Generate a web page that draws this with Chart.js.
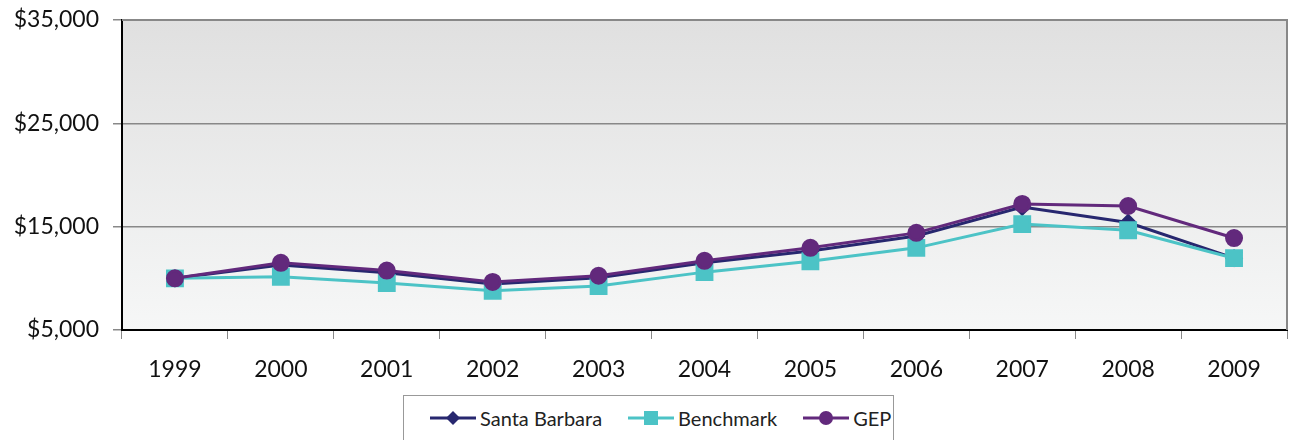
<!DOCTYPE html>
<html>
<head>
<meta charset="utf-8">
<script src="https://cdn.jsdelivr.net/npm/chart.js@4/dist/chart.umd.min.js"></script>
<style>
    body { margin: 0; background: #fff; overflow: hidden; }
    #wrap { position: relative; width: 1289px; height: 440px; overflow: hidden; }
    #legend {
        position: absolute; left: 403px; top: 395px; width: 491px; height: 50px;
        border: 1px solid #999; background: #fff; box-sizing: border-box;
        display: flex; align-items: flex-start; padding-top: 10px; padding-left: 26px;
        font-family: Lato, "Open Sans", sans-serif; font-size: 20px; color: #222;
        white-space: nowrap;
    }
    #legend .item { display: flex; align-items: center; margin-right: 26px; flex-shrink: 0; }
    #legend svg { margin-right: 4px; flex-shrink: 0; }
</style>
</head>
<body>
<div id="wrap">
    <canvas id="chart" width="1289" height="440"></canvas>
    <div id="legend"></div>
</div>
<script>
/* ========== DADOS ========== */
const years = ['1999', '2000', '2001', '2002', '2003', '2004', '2005', '2006', '2007', '2008', '2009'];
const santaBarbara = [10000, 11300, 10550, 9450, 10050, 11500, 12650, 14100, 16900, 15400, 11950];
const benchmark = [10000, 10150, 9550, 8800, 9250, 10600, 11650, 12950, 15250, 14650, 11950];
const gep = [10000, 11500, 10750, 9650, 10250, 11700, 12950, 14400, 17200, 17000, 13900];
const yTicks = [5000, 15000, 25000, 35000];

const COLORS = { sb: '#27276f', bench: '#4cc3c6', gep: '#62297c' };
const FONT = 'Lato, "Open Sans", sans-serif';

/* ========== FUNDO / BORDAS ========== */
const plotFrame = {
    id: 'plotFrame',
    beforeDraw(chart) {
        const { ctx, chartArea: a } = chart;
        const g = ctx.createLinearGradient(0, a.top, 0, a.bottom);
        g.addColorStop(0, '#e0e0e0');
        g.addColorStop(1, '#f6f7f7');
        ctx.save();
        ctx.fillStyle = g;
        ctx.fillRect(a.left, a.top, a.right - a.left, a.bottom - a.top);
        ctx.restore();
    },
    afterDraw(chart) {
        const { ctx, chartArea: a } = chart;
        ctx.save();
        ctx.strokeStyle = '#888';
        ctx.lineWidth = 2;
        ctx.beginPath();
        ctx.moveTo(a.left, a.top);
        ctx.lineTo(a.right, a.top);
        ctx.lineTo(a.right, a.bottom);
        ctx.stroke();
        ctx.restore();
    }
};

/* ========== GRÁFICO ========== */
const ctx = document.getElementById('chart').getContext('2d');
new Chart(ctx, {
    type: 'line',
    data: {
        labels: years,
        datasets: [
            {
                label: 'Santa Barbara', data: santaBarbara, order: 3,
                borderColor: COLORS.sb, backgroundColor: COLORS.sb,
                borderWidth: 3, pointStyle: 'rectRot', pointRadius: 7
            },
            {
                label: 'Benchmark', data: benchmark, order: 2,
                borderColor: COLORS.bench, backgroundColor: COLORS.bench,
                borderWidth: 3, pointStyle: 'rect', pointRadius: 10.5
            },
            {
                label: 'GEP', data: gep, order: 1,
                borderColor: COLORS.gep, backgroundColor: COLORS.gep,
                borderWidth: 3, pointStyle: 'circle', pointRadius: 7.5
            }
        ]
    },
    options: {
        responsive: false,
        animation: false,
        layout: { autoPadding: false, padding: { top: 20, right: 2, bottom: 0, left: 0 } },
        plugins: { legend: { display: false }, tooltip: { enabled: false } },
        elements: { line: { tension: 0 }, point: { borderWidth: 0, hoverRadius: 8 } },
        scales: {
            x: {
                offset: true,
                afterFit(s) { s.height = 110; s.paddingLeft = 0; s.paddingRight = 0; },
                grid: { offset: true, drawOnChartArea: false, drawTicks: true, tickLength: 9, color: '#888', lineWidth: 1 },
                border: { color: '#000', width: 2 },
                ticks: { color: '#111', padding: 17, font: { family: FONT, size: 23 } }
            },
            y: {
                min: 5000, max: 35000,
                afterFit(s) { s.width = 122; s.paddingTop = 0; s.paddingBottom = 0; },
                afterBuildTicks(s) { s.ticks = yTicks.map(v => ({ value: v })); },
                grid: { color: '#888', lineWidth: 1.5, tickLength: 9 },
                border: { color: '#000', width: 2 },
                ticks: {
                    color: '#111', padding: 14, font: { family: FONT, size: 23 },
                    callback: v => '$' + v.toLocaleString('en-US')
                }
            }
        }
    },
    plugins: [plotFrame]
});

/* ========== LEGENDA ========== */
const legendItems = [
    { label: 'Santa Barbara', color: COLORS.sb, marker: 'diamond' },
    { label: 'Benchmark', color: COLORS.bench, marker: 'square' },
    { label: 'GEP', color: COLORS.gep, marker: 'circle' }
];

function markerSvg(m, c) {
    if (m === 'diamond') return `<polygon points="23,5 30,12 23,19 16,12" fill="${c}"/>`;
    if (m === 'square') return `<rect x="16" y="5" width="14" height="14" fill="${c}"/>`;
    return `<circle cx="23" cy="12" r="7" fill="${c}"/>`;
}

const legendEl = document.getElementById('legend');
legendItems.forEach(it => {
    const div = document.createElement('div');
    div.className = 'item';
    div.innerHTML = `<svg width="46" height="24"><line x1="0" y1="12" x2="46" y2="12" stroke="${it.color}" stroke-width="3"/>${markerSvg(it.marker, it.color)}</svg><span>${it.label}</span>`;
    legendEl.appendChild(div);
});
</script>
</body>
</html>
